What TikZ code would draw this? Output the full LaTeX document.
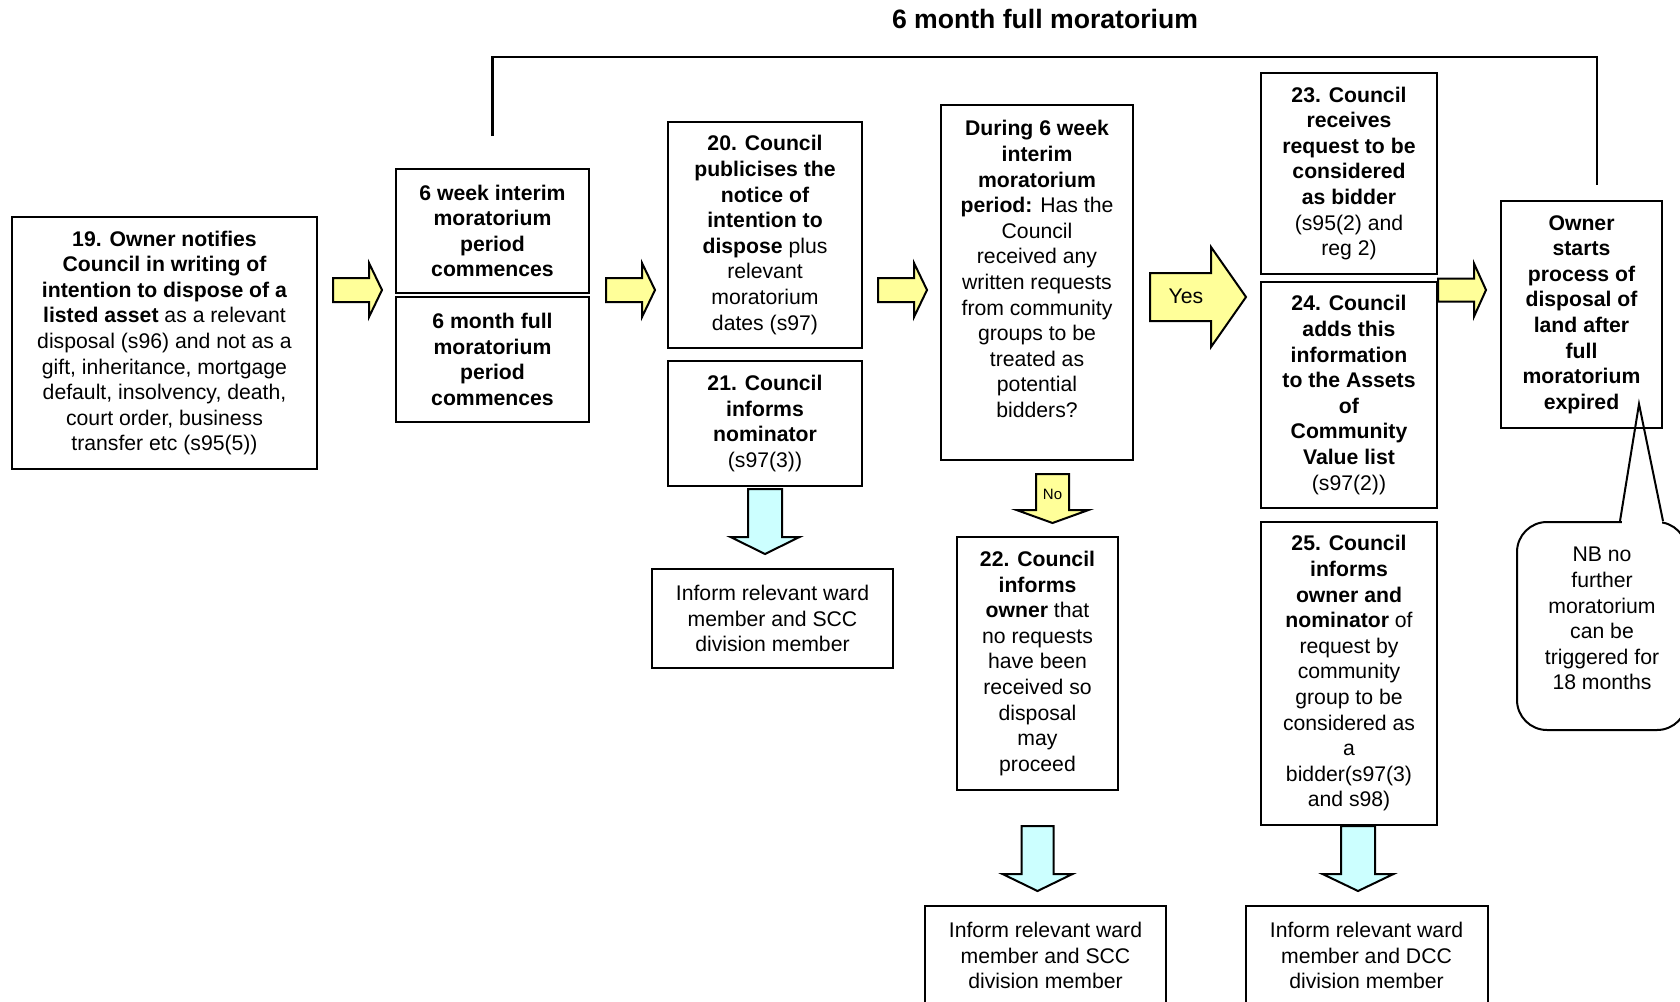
\documentclass[tikz,border=0pt]{standalone}
\usepackage{fontspec}
\setmainfont{Liberation Sans}
\usetikzlibrary{calc}

\definecolor{arrowyellow}{HTML}{FFFF99}
\definecolor{arrowcyan}{HTML}{CCFFFF}

\tikzset{
  box/.style={draw, line width=1pt, align=center, inner sep=2pt, fill=white,
    font=\fontsize{10.6}{12.8}\selectfont},
  boldbox/.style={box, font=\fontsize{10.6}{12.8}\selectfont\bfseries},
  boxsize/.style 2 args={minimum width=#1*0.5pt, minimum height=#2*0.5pt},
}

% fat block arrows: tail, shaft length, head length, shaft half width, head half width, fill
\newcommand{\blockright}[6]{%
  \filldraw[fill=#6, line width=1pt] #1 ++(0,-#4) -- ++(#2,0) -- ++(0,{#4-#5}) -- ++(#3,#5)
    -- ++(-#3,#5) -- ++(0,{#4-#5}) -- ++(-#2,0) -- cycle;}
\newcommand{\blockdown}[6]{%
  \filldraw[fill=#6, line width=1pt] #1 ++(-#4,0) -- ++(0,#2) -- ++({#4-#5},0) -- ++(#5,#3)
    -- ++(#5,-#3) -- ++({#4-#5},0) -- ++(0,-#2) -- cycle;}

\begin{document}
\begin{tikzpicture}[x=0.5pt,y=-0.5pt]
  \useasboundingbox (0,0) rectangle (1680,1001);

  \node[font=\fontsize{13.3}{16}\selectfont\bfseries] (title) at (1045,19) {6 month full moratorium};
  \coordinate (row) at (0,290);
  \coordinate (top) at (0,57);

  % main row
  \node[box, boxsize={305}{252}] (b19) at (164.5,343) {\textbf{19. Owner notifies}\\
    \textbf{Council in writing of}\\ \textbf{intention to dispose of a}\\
    \textbf{listed asset} as a relevant\\ disposal (s96) and not as a\\
    gift, inheritance, mortgage\\ default, insolvency, death,\\
    court order, business\\ transfer etc (s95(5))};
  \node[boldbox, boxsize={193}{124}] (wk) at (492.5,231) {6 week interim\\ moratorium\\ period\\ commences};
  \node[boldbox, boxsize={193}{125}] (mo) at (492.5,359.5) {6 month full\\ moratorium\\ period\\ commences};
  \node[box, boxsize={194}{226}] (b20) at (765,235) {\textbf{20. Council}\\ \textbf{publicises the}\\
    \textbf{notice of}\\ \textbf{intention to}\\ \textbf{dispose} plus\\ relevant\\ moratorium\\ dates (s97)};
  \node[box, boxsize={194}{125}] (b21) at (765,423.5) {\textbf{21. Council}\\ \textbf{informs}\\
    \textbf{nominator}\\ (s97(3))};
  \node[box, boxsize={192}{355}] (q) at (1037,282.5) {\textbf{During 6 week}\\ \textbf{interim}\\
    \textbf{moratorium}\\ \textbf{period:} Has the\\ Council\\ received any\\ written requests\\
    from community\\ groups to be\\ treated as\\ potential\\ bidders?\\[0.7pt]};
  \node[box, boxsize={161}{253}] (b22) at (1037.5,663.5) {\textbf{22. Council}\\ \textbf{informs}\\
    \textbf{owner} that\\ no requests\\ have been\\ received so\\ disposal\\ may\\ proceed};
  \node[box, boxsize={176}{201}] (b23) at (1349,173.5) {\textbf{23. Council}\\ \textbf{receives}\\
    \textbf{request to be}\\ \textbf{considered}\\ \textbf{as bidder}\\ (s95(2) and\\ reg 2)};
  \node[box, boxsize={176}{226}] (b24) at (1349,395) {\textbf{24. Council}\\ \textbf{adds this}\\
    \textbf{information}\\ \textbf{to the Assets}\\ \textbf{of}\\ \textbf{Community}\\
    \textbf{Value list}\\ (s97(2))};
  \node[box, boxsize={176}{303}] (b25) at (1349,673.5) {\textbf{25. Council}\\ \textbf{informs}\\
    \textbf{owner and}\\ \textbf{nominator} of\\ request by\\ community\\ group to be\\
    considered as\\ a\\ bidder(s97(3)\\ and s98)};
  \node[boldbox, boxsize={161}{227}] (own) at (1581.5,314.5) {Owner\\ starts\\ process of\\
    disposal of\\ land after\\ full\\ moratorium\\ expired};

  % people to inform
  \node[box, boxsize={241}{99}] (inf1) at (772.5,618.5) {Inform relevant ward\\ member and SCC\\ division member};
  \node[box, boxsize={241}{99}] (inf2) at (1045.5,955.5) {Inform relevant ward\\ member and SCC\\ division member};
  \node[box, boxsize={242}{99}] (inf3) at (1366.5,955.5) {Inform relevant ward\\ member and DCC\\ division member};

  % bracket over the full moratorium
  \coordinate (bl) at ($(wk.north)+(0,-32)$);
  \coordinate (br) at ($(own.north)+(15.5,-15)$);
  \draw[line width=1.4pt] (bl) -- (bl |- top) -| (br);

  % yellow arrows
  \blockright{($(b19.east |- row)+(15,0)$)}{36}{13}{12}{27}{arrowyellow}
  \blockright{($(wk.east |- row)+(16,0)$)}{36}{13}{12}{27}{arrowyellow}
  \blockright{($(b20.east |- row)+(15,0)$)}{36}{13}{12}{27}{arrowyellow}
  \blockright{($(b24.east |- row)$)}{36}{12}{11.5}{26.5}{arrowyellow}
  \coordinate (yes) at ($(q.east |- row)+(16,7)$);
  \blockright{(yes)}{61}{35}{24}{50}{arrowyellow}
  \node[font=\fontsize{10.6}{12.8}\selectfont] (yeslabel) at ($(yes)+(36,-1)$) {Yes};
  \coordinate (no) at ($(q.south)+(15.5,13)$);
  \blockdown{(no)}{36}{13}{16.5}{36}{arrowyellow}
  \node[font=\fontsize{7.5}{9}\selectfont] (nolabel) at ($(no)+(0,20)$) {No};

  % cyan arrows
  \blockdown{($(b21.south)+(0,2)$)}{48}{17}{17}{34.5}{arrowcyan}
  \blockdown{($(b22.south)+(0,35)$)}{48}{17}{16}{35}{arrowcyan}
  \blockdown{($(b25.south)+(9,0)$)}{48}{17}{17}{35.5}{arrowcyan}

  % callout
  \node[box, rounded corners=15pt, boxsize={170}{208}] (nb) at (1602,626) {NB no\\ further\\
    moratorium\\ can be\\ triggered for\\ 18 months\\[-5.3pt]};
  \coordinate (tl) at ($(nb.north)+(18,0)$);
  \coordinate (tr) at ($(nb.north)+(61,0)$);
  \coordinate (tip) at ($(own.south)+(57.5,-25)$);
  \fill[white] ($(tl)+(1.5,-3)$) rectangle ($(tr)+(-1.5,3)$);
  \draw[line width=1pt] (tl) -- (tip) -- (tr);
\end{tikzpicture}
\end{document}
